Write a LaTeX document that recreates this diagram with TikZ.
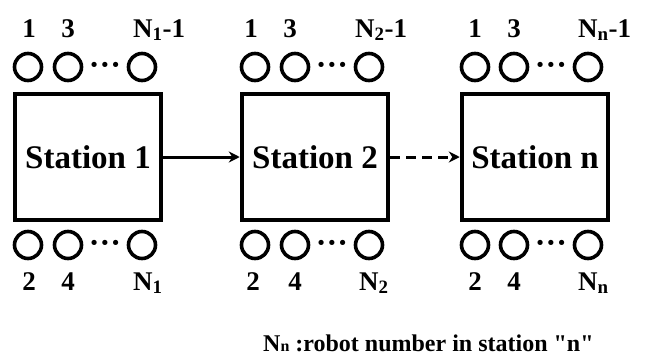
\documentclass[tikz,border=0pt]{standalone}
\usepackage{fontspec}
\setmainfont{Liberation Serif}[Ligatures=TeXOff]
\usetikzlibrary{arrows.meta}

\begin{document}
\begin{tikzpicture}[x=1pt, y=-1pt,
          station/.style={
            draw, line width=4.5pt, minimum width=146pt, minimum height=126pt,
            inner sep=0pt, font=\fontsize{33}{33}\selectfont\bfseries
          },
          robot/.style={draw, circle, line width=3.6pt, minimum size=27pt, inner sep=0pt},
          more/.style={font=\fontsize{32}{32}\selectfont\bfseries, inner sep=0pt, anchor=base},
          num/.style={font=\fontsize{27}{27}\selectfont\bfseries, inner sep=0pt, anchor=base},
          numN/.style={num, anchor=base west},
          flow/.style={line width=3pt, -{Stealth[length=11pt, width=11pt]}},
        ]
          \useasboundingbox (0,0) rectangle (664,356);
          \def\rowtop{67}
          \def\rowbot{245}
          \def\numtop{37}
          \def\numbot{290}

          % Stations
          \node[station] (st1) at (88,157) {Station 1};
          \node[station] (st2) at (315,157) {Station 2};
          \node[station] (stn) at (535,157) {Station n};

          % Station 1 robots
          \node[robot] (s1t1) at (28,\rowtop) {};
          \node[robot] (s1t3) at (68,\rowtop) {};
          \node[more] (s1td) at (105,\rowtop+8) {···};
          \node[robot] (s1tN) at (142,\rowtop) {};
          \node[robot] (s1b2) at (28,\rowbot) {};
          \node[robot] (s1b4) at (68,\rowbot) {};
          \node[more] (s1bd) at (105,\rowbot+8) {···};
          \node[robot] (s1bN) at (142,\rowbot) {};
          \node[num] (l1t1) at (29,\numtop) {1};
          \node[num] (l1t3) at (68,\numtop) {3};
          \node[numN] (l1tN) at (133,\numtop) {N\textsubscript{1}-1};
          \node[num] (l1b2) at (29,\numbot) {2};
          \node[num] (l1b4) at (68,\numbot) {4};
          \node[numN] (l1bN) at (133,\numbot) {N\textsubscript{1}};

          % Station 2 robots
          \node[robot] (s2t1) at (255,\rowtop) {};
          \node[robot] (s2t3) at (295,\rowtop) {};
          \node[more] (s2td) at (332,\rowtop+8) {···};
          \node[robot] (s2tN) at (369,\rowtop) {};
          \node[robot] (s2b2) at (255,\rowbot) {};
          \node[robot] (s2b4) at (295,\rowbot) {};
          \node[more] (s2bd) at (332,\rowbot+8) {···};
          \node[robot] (s2bN) at (369,\rowbot) {};
          \node[num] (l2t1) at (251,\numtop) {1};
          \node[num] (l2t3) at (290,\numtop) {3};
          \node[numN] (l2tN) at (355,\numtop) {N\textsubscript{2}-1};
          \node[num] (l2b2) at (253,\numbot) {2};
          \node[num] (l2b4) at (295,\numbot) {4};
          \node[numN] (l2bN) at (359,\numbot) {N\textsubscript{2}};

          % Station n robots
          \node[robot] (snt1) at (475,\rowtop) {};
          \node[robot] (snt3) at (514,\rowtop) {};
          \node[more] (sntd) at (551,\rowtop+8) {···};
          \node[robot] (sntN) at (588,\rowtop) {};
          \node[robot] (snb2) at (475,\rowbot) {};
          \node[robot] (snb4) at (514,\rowbot) {};
          \node[more] (snbd) at (551,\rowbot+8) {···};
          \node[robot] (snbN) at (588,\rowbot) {};
          \node[num] (lnt1) at (475,\numtop) {1};
          \node[num] (lnt3) at (514,\numtop) {3};
          \node[numN] (lntN) at (578,\numtop) {N\textsubscript{n}-1};
          \node[num] (lnb2) at (475,\numbot) {2};
          \node[num] (lnb4) at (514,\numbot) {4};
          \node[numN] (lnbN) at (578,\numbot) {N\textsubscript{n}};

          % Flow between stations
          \draw[flow] (st1) -- (st2);
          \draw[flow, dash pattern=on 10pt off 6pt] (st2) -- (stn);

          % Legend
          \node[anchor=base west, inner sep=0pt, font=\fontsize{24}{24}\selectfont\bfseries] (legend) at (263,351)
            {N{\fontsize{16}{16}\selectfont n} :robot number in station "n"};
        \end{tikzpicture}
\end{document}
